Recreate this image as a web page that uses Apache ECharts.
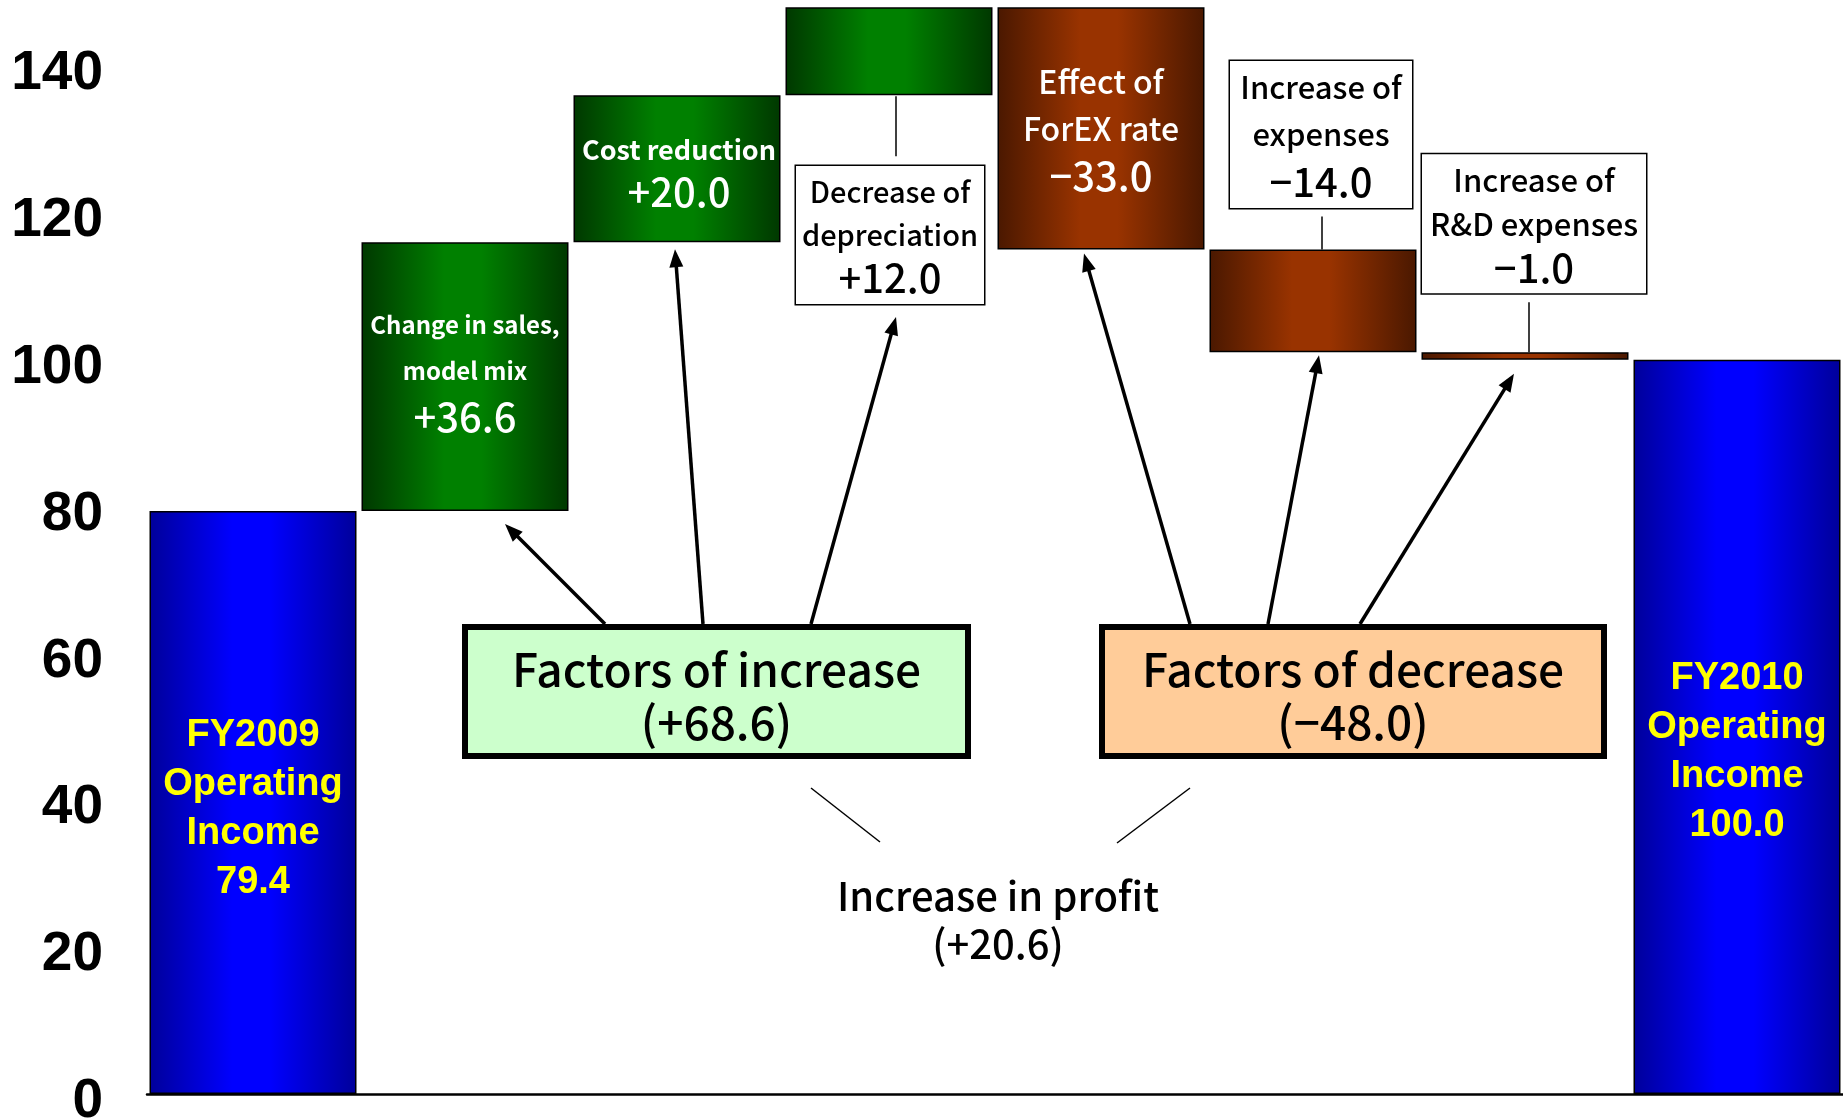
<!DOCTYPE html>
<html><head><meta charset="utf-8">
<script src="https://cdn.jsdelivr.net/npm/echarts@6/dist/echarts.min.js"></script>
<style>html,body{margin:0;padding:0;background:#fff}#c{width:1843px;height:1118px}</style>
</head><body><div id="c"></div>
<script>
// ---- data ----
const categories = ['FY2009 Operating Income','Change in sales, model mix','Cost reduction','Decrease of depreciation','Effect of ForEX rate','Increase of expenses','Increase of R&D expenses','FY2010 Operating Income'];
const changes = [79.4, 36.6, 20.0, 12.0, -33.0, -14.0, -1.0, 100.0];
const kinds = ['total','up','up','up','down','down','down','total'];
const yTicks = [0,20,40,60,80,100,120,140];
const labelLines = [
  ['FY2009','Operating','Income','79.4'],
  ['Change in sales,','model mix','+36.6'],
  ['Cost reduction','+20.0'],
  ['Decrease of','depreciation','+12.0'],
  ['Effect of','ForEX rate','\u221233.0'],
  ['Increase of','expenses','\u221214.0'],
  ['Increase of','R&D expenses','\u22121.0'],
  ['FY2010','Operating','Income','100.0']
];
const increaseText = ['Factors of increase','(+68.6)'];
const decreaseText = ['Factors of decrease','(\u221248.0)'];
const profitText = ['Increase in profit','(+20.6)'];

// ---- derived waterfall ----
const n = changes.length;
const base = [], height = [];
let run = 0;
for (let i = 0; i < n; i++) {
  if (kinds[i] === 'total') { base.push(0); height.push(changes[i]); run = changes[i]; }
  else if (changes[i] >= 0) { base.push(run); height.push(changes[i]); run += changes[i]; }
  else { run += changes[i]; base.push(run); height.push(-changes[i]); }
}

const JP = '"Noto Sans CJK JP", "Noto Sans", sans-serif';
function grad(edge, mid) {
  return new echarts.graphic.LinearGradient(0, 0, 1, 0, [
    {offset: 0, color: edge}, {offset: 0.4, color: mid}, {offset: 0.58, color: mid}, {offset: 1, color: edge}]);
}
const fills = {total: grad('#00009a', '#0000ff'), up: grad('#003800', '#008000'), down: grad('#4a1800', '#993300')};

const fyLabel = (off) => ({
  show: true, position: 'inside', offset: off, color: '#ffff00',
  fontFamily: '"Liberation Sans", Arial, sans-serif', fontWeight: 'bold', fontSize: 38, lineHeight: 49,
  align: 'center'
});
function innerRich(sSize, sLH, bLH) {
  return {
    s: {fontFamily: JP, fontSize: sSize, fontWeight: 'bold', color: '#fff', lineHeight: sLH, align: 'center'},
    b: {fontFamily: JP, fontSize: 40, fontWeight: 500, color: '#fff', lineHeight: bLH, align: 'center'}
  };
}
function boxRich(lh, sSize) {
  return {
    s: {fontFamily: JP, fontSize: sSize, fontWeight: 500, color: '#000', lineHeight: lh, align: 'center'},
    b: {fontFamily: JP, fontSize: 40, fontWeight: 500, color: '#000', lineHeight: lh, align: 'center'}
  };
}
function fmt(lines) {
  return lines.map((t, k) => (k === lines.length - 1 ? '{b|' : '{s|') + t.replace(/[{}|]/g, '') + '}').join('\n');
}
const labelCfg = [
  Object.assign(fyLabel([0, 7]), {formatter: labelLines[0].join('\n')}),
  {show: true, position: 'inside', offset: [0, -6], formatter: fmt(labelLines[1]), rich: innerRich(24, 46, 46)},
  {show: true, position: 'inside', offset: [2, 2], formatter: fmt(labelLines[2]), rich: innerRich(27, 43, 43)},
  {show: true, position: 'bottom', distance: 70.6, offset: [1, 0], formatter: fmt(labelLines[3]), rich: boxRich(43, 29),
    backgroundColor: '#fff', borderColor: '#000', borderWidth: 1.5, width: 188, padding: [4.5, 0]},
  {show: true, position: 'inside', offset: [0, 0], formatter: fmt(labelLines[4]), rich: {
    s: {fontFamily: JP, fontSize: 32, fontWeight: 500, color: '#fff', lineHeight: 47, align: 'center'},
    b: {fontFamily: JP, fontSize: 40, fontWeight: 500, color: '#fff', lineHeight: 47, align: 'center'}}},
  {show: true, position: 'top', distance: 41.6, offset: [8, 0], formatter: fmt(labelLines[5]), rich: boxRich(47, 31),
    backgroundColor: '#fff', borderColor: '#000', borderWidth: 1.5, width: 182, padding: [3, 0]},
  {show: true, position: 'top', distance: 59, offset: [9, 0], formatter: fmt(labelLines[6]), rich: boxRich(44, 31),
    backgroundColor: '#fff', borderColor: '#000', borderWidth: 1.5, width: 224, padding: [3.5, 0]},
  Object.assign(fyLabel([0, 25]), {formatter: labelLines[7].join('\n')})
];

const visData = height.map((h, i) => ({
  value: h,
  itemStyle: {color: fills[kinds[i]]},
  label: labelCfg[i]
}));

const chart = echarts.init(document.getElementById('c'), null, {renderer: 'canvas'});
chart.setOption({
  animation: false,
  backgroundColor: '#fff',
  grid: {left: 147, right: 0, top: 7.2, bottom: 24, containLabel: false, outerBoundsMode: 'none'},
  xAxis: {
    type: 'category', data: categories,
    axisLine: {show: true, lineStyle: {color: '#000', width: 2.5}},
    axisTick: {show: false}, axisLabel: {show: false}, splitLine: {show: false}
  },
  yAxis: {
    type: 'value', min: 0, max: 148, interval: 20,
    axisLine: {show: false}, axisTick: {show: false}, splitLine: {show: false},
    axisLabel: {
      show: true, margin: 44, color: '#000', fontFamily: '"Liberation Sans", Arial, sans-serif',
      fontWeight: 'bold', fontSize: 55, verticalAlign: 'top', lineHeight: 16,
      formatter: v => (yTicks.indexOf(v) >= 0 ? String(v) : '')
    }
  },
  series: [
    {type: 'bar', stack: 'w', data: base, barWidth: 207, silent: true,
      itemStyle: {color: 'rgba(0,0,0,0)'}, emphasis: {disabled: true}},
    {type: 'bar', stack: 'w', data: visData, barWidth: 207,
      itemStyle: {borderColor: '#000', borderWidth: 1.5}, emphasis: {disabled: true}}
  ]
});

// ---- annotations, anchored to the bars via the axes ----
function px(i, v) { return chart.convertToPixel({gridIndex: 0}, [i, v]); }
function arrow(x1, y1, x2, y2) {
  const dx = x2 - x1, dy = y2 - y1, L = Math.hypot(dx, dy), ux = dx / L, uy = dy / L;
  const hl = 18, hw = 7;
  const bx = x2 - ux * hl, by = y2 - uy * hl;
  return [
    {type: 'line', shape: {x1: x1, y1: y1, x2: bx + ux * 2, y2: by + uy * 2}, style: {stroke: '#000', lineWidth: 3.5}, z: 20},
    {type: 'polygon', shape: {points: [[x2, y2], [bx - uy * hw, by + ux * hw], [bx + uy * hw, by - ux * hw]]}, style: {fill: '#000'}, z: 20}
  ];
}
const bottomOf = i => px(i, base[i]);
const topOf = i => px(i, base[i] + height[i]);
const g = [];
const boxTopY = 624;
// arrows from Factors of increase
let p = bottomOf(1); g.push(...arrow(605, boxTopY, p[0] + 40, p[1] + 13));
p = bottomOf(2); g.push(...arrow(703, boxTopY, p[0] - 2, p[1] + 7));
p = bottomOf(3); g.push(...arrow(811, boxTopY, p[0] + 7, p[1] + 70.6 + 138 + 13));
// arrows from Factors of decrease
p = bottomOf(4); g.push(...arrow(1190, boxTopY, p[0] - 17, p[1] + 4));
p = bottomOf(5); g.push(...arrow(1268, boxTopY, p[0] + 6, p[1] + 3));
p = bottomOf(6); g.push(...arrow(1360, boxTopY, p[0] - 11, p[1] + 14));
// connectors from callout boxes to bars
p = bottomOf(3); g.push({type: 'line', shape: {x1: p[0] + 7, y1: p[1] + 1, x2: p[0] + 7, y2: p[1] + 61}, style: {stroke: '#000', lineWidth: 1.5}, z: 20});
p = topOf(5); g.push({type: 'line', shape: {x1: p[0] + 9, y1: p[1] - 33, x2: p[0] + 9, y2: p[1]}, style: {stroke: '#000', lineWidth: 1.5}, z: 20});
p = topOf(6); g.push({type: 'line', shape: {x1: p[0] + 4, y1: p[1] - 50, x2: p[0] + 4, y2: p[1]}, style: {stroke: '#000', lineWidth: 1.5}, z: 20});
// factor boxes
function factorBox(x, y, w, h, fill, lines) {
  const cx = x + w / 2;
  return [
    {type: 'rect', shape: {x: x + 3, y: y + 3, width: w - 6, height: h - 6}, style: {fill: fill, stroke: '#000', lineWidth: 6}, z: 15},
    {type: 'text', x: cx, y: y + 46, style: {text: lines[0], font: '500 46px ' + JP, fill: '#000', align: 'center', verticalAlign: 'middle'}, z: 16},
    {type: 'text', x: cx, y: y + 99, style: {text: lines[1], font: '500 46px ' + JP, fill: '#000', align: 'center', verticalAlign: 'middle'}, z: 16}
  ];
}
g.push(...factorBox(462, 624, 509, 135, '#ccffcc', increaseText));
g.push(...factorBox(1099, 624, 508, 135, '#ffcc99', decreaseText));
// increase in profit
g.push({type: 'line', shape: {x1: 811, y1: 788, x2: 880, y2: 842}, style: {stroke: '#000', lineWidth: 1.5}, z: 20});
g.push({type: 'line', shape: {x1: 1190, y1: 788, x2: 1117, y2: 843}, style: {stroke: '#000', lineWidth: 1.5}, z: 20});
g.push({type: 'text', x: 998, y: 896, style: {text: profitText[0], font: '500 40px ' + JP, fill: '#000', align: 'center', verticalAlign: 'middle'}, z: 16});
g.push({type: 'text', x: 998, y: 944, style: {text: profitText[1], font: '500 40px ' + JP, fill: '#000', align: 'center', verticalAlign: 'middle'}, z: 16});
chart.setOption({graphic: g});
</script>
</body></html>
